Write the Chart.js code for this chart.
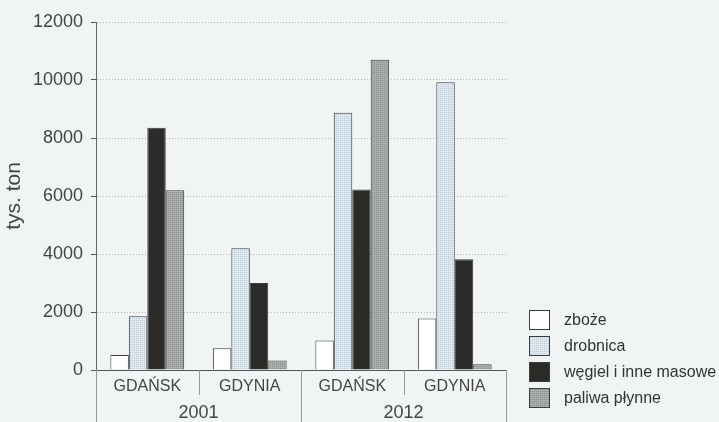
<!DOCTYPE html>
<html>
<head>
<meta charset="utf-8">
<script src="https://cdn.jsdelivr.net/npm/chart.js@4"></script>
<style>
  html, body { margin: 0; padding: 0; background: #f0f4f5; }
  #wrap { position: relative; width: 719px; height: 422px; }
  #legend { position: absolute; left: 529px; top: 307px; font: 16px "Liberation Sans", Arial, sans-serif; color: #333; }
  #legend .row { height: 26px; display: flex; align-items: center; white-space: nowrap; }
  #legend .box { width: 19px; height: 18px; border: 1px solid #3c3c3c; margin-right: 14px; }
</style>
</head>
<body>
<div id="wrap">
  <canvas id="chart" width="719" height="422"></canvas>
  <div id="legend"></div>
</div>
<script>
  // data
  var years = ['2001', '2012'];
  var ports = ['GDAŃSK', 'GDYNIA', 'GDAŃSK', 'GDYNIA'];
  var cargoNames = ['zboże', 'drobnica', 'węgiel i inne masowe', 'paliwa płynne'];
  var zboze = [520, 750, 1020, 1780];
  var drobnica = [1850, 4200, 8870, 9920];
  var wegiel = [8350, 3000, 6220, 3820];
  var paliwa = [6200, 330, 10700, 200];
  var yMin = 0, yMax = 12000, yStep = 2000;

  // stipple fill like the printed raster
  function dotPattern(base, dot) {
    var c = document.createElement('canvas');
    c.width = 2; c.height = 2;
    var g = c.getContext('2d');
    g.fillStyle = base;
    g.fillRect(0, 0, 2, 2);
    g.fillStyle = dot;
    g.fillRect(0, 0, 1, 1);
    return c;
  }

  var drobnicaFill = dotPattern('#dfe9f1', '#bccad5');
  var paliwaFill = dotPattern('#aaaeac', '#878b89');
  var ctx = document.getElementById('chart').getContext('2d');

  var fills = [
    { bg: '#ffffff', css: '#ffffff' },
    { bg: ctx.createPattern(drobnicaFill, 'repeat'), css: 'url(' + drobnicaFill.toDataURL() + ')' },
    { bg: '#2b2b27', css: '#2b2b27' },
    { bg: ctx.createPattern(paliwaFill, 'repeat'), css: 'url(' + paliwaFill.toDataURL() + ')' }
  ];
  var series = [zboze, drobnica, wegiel, paliwa];

  var datasets = [];
  for (var i = 0; i < series.length; i++) {
    datasets.push({
      label: cargoNames[i],
      data: series[i],
      backgroundColor: fills[i].bg,
      borderColor: '#3c3c3c',
      borderWidth: 1,
      categoryPercentage: 0.72,
      barPercentage: 1
    });
  }

  // legend in html so the box/text spacing matches
  var legendEl = document.getElementById('legend');
  for (var j = 0; j < cargoNames.length; j++) {
    var row = document.createElement('div');
    row.className = 'row';
    var box = document.createElement('span');
    box.className = 'box';
    box.style.background = fills[j].css;
    var txt = document.createElement('span');
    txt.textContent = cargoNames[j];
    row.appendChild(box);
    row.appendChild(txt);
    legendEl.appendChild(row);
  }

  // vertical separators under the x axis: short ones between ports, long ones between years
  var separators = {
    id: 'separators',
    afterDraw: function (chart) {
      var x = chart.scales.x;
      var area = chart.chartArea;
      var half = (x.getPixelForValue(1) - x.getPixelForValue(0)) / 2;
      var perYear = ports.length / years.length;
      var c = chart.ctx;
      c.save();
      c.strokeStyle = '#9a9a9a';
      c.lineWidth = 1;
      for (var k = 0; k <= ports.length; k++) {
        var px = Math.round(x.getPixelForValue(0) - half + k * half * 2) + 0.5;
        var bottom = (k % perYear === 0) ? chart.height : x.bottom - x.options.ticks.padding;
        c.beginPath();
        c.moveTo(px, area.bottom);
        c.lineTo(px, bottom);
        c.stroke();
      }
      c.restore();
    }
  };

  Chart.defaults.font.family = '"Liberation Sans", Arial, sans-serif';
  Chart.defaults.color = '#444';

  new Chart(ctx, {
    type: 'bar',
    data: { labels: ports, datasets: datasets },
    options: {
      responsive: false,
      animation: false,
      layout: { padding: { left: 0, top: 22, right: 213, bottom: 0 } },
      plugins: { legend: { display: false }, tooltip: { enabled: false } },
      scales: {
        x: {
          grid: { drawOnChartArea: false, drawTicks: false },
          border: { color: '#555', width: 1 },
          ticks: { padding: 9, font: { size: 16, lineHeight: 1.0 }, maxRotation: 0, autoSkip: false }
        },
        x2: {
          type: 'category',
          labels: years,
          position: 'bottom',
          offset: true,
          grid: { display: false, drawTicks: false },
          border: { display: false },
          ticks: { padding: 0, font: { size: 18, lineHeight: 1.0 }, maxRotation: 0 }
        },
        y: {
          min: yMin,
          max: yMax,
          ticks: {
            stepSize: yStep,
            font: { size: 18 },
            padding: 8,
            callback: function (v) { return String(v); }
          },
          grid: { color: '#b4b4b4', tickLength: 5, tickColor: '#555', tickBorderDash: [] },
          border: { color: '#666', width: 1, dash: [1, 2] },
          title: { display: true, text: 'tys. ton', font: { size: 21, lineHeight: 1.0 }, color: '#444', padding: { top: 4, bottom: 0 } }
        }
      }
    },
    plugins: [separators]
  });
</script>
</body>
</html>
